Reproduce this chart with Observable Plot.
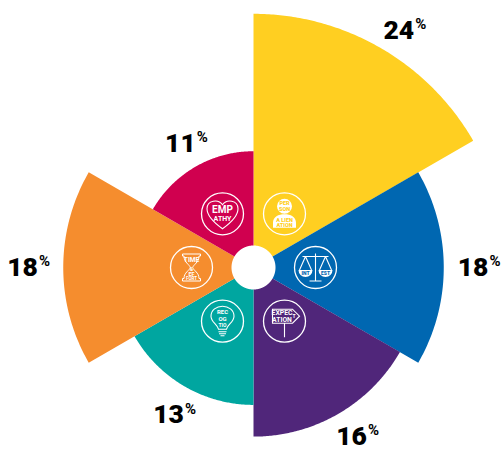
<!DOCTYPE html>
<html>
<head>
<meta charset="utf-8">
<script src="https://cdn.jsdelivr.net/npm/d3@7"></script>
<script src="https://cdn.jsdelivr.net/npm/@observablehq/plot@0.6"></script>
<style>
  html, body { margin: 0; padding: 0; background: #fff; }
  svg { display: block; }
</style>
</head>
<body>
<div id="chart"></div>
<script>
// Share of each factor, clockwise from twelve o'clock
const factors = ["Person alienation", "Fairness", "Expectation", "Recognition", "Time & effort", "Empathy"];
const shares = [24, 18, 16, 13, 18, 11];
const colors = ["#ffcf21", "#0067b1", "#50267a", "#00a6a0", "#f58d2e", "#d0004f"];

// Layout constants: one share point is drawn as 10.57 px of radius
const pxPerPoint = 10.57;
const holeRadius = 22 / pxPerPoint;
const iconRadius = 62 / pxPerPoint;
const cx = 253, cy = 267, W = 501, H = 451;
const sectorDeg = 360 / shares.length;
const rad = d => d * Math.PI / 180;
const polar = (r, deg) => ({x: r * Math.sin(rad(deg)), y: r * Math.cos(rad(deg))});

// Annular sector outlines follow each share
const wedges = shares.flatMap((v, i) => {
  const a0 = i * sectorDeg;
  const degs = d3.range(0, sectorDeg + 0.5, 0.5).map(d => a0 + d);
  const outer = degs.map(d => polar(v, d));
  const inner = degs.slice().reverse().map(d => polar(holeRadius, d));
  return [...outer, ...inner].map(p => ({...p, factor: factors[i], color: colors[i]}));
});

// Value labels sit at a per-sector polar location (px from centre, degrees)
const labelReach = [278, 219.5, 195.4, 170, 231, 144];
const labelAngle = [31.5, 90, 149.9, 210, 270, 329.5];
const labels = shares.map((v, i) => ({
  ...polar(labelReach[i] / pxPerPoint, labelAngle[i]),
  text: String(v)
}));

// Icon centres sit mid-sector
const icons = factors.map((f, i) => ({...polar(iconRadius, (i + 0.5) * sectorDeg), factor: f}));
const at = f => icons.filter(d => d.factor === f);

// Pictograms for the icon badges, drawn around the origin in pixels
const glyph = draw => ({draw(ctx) { draw(ctx); }});
const heart = glyph(c => {
  c.moveTo(0, 15);
  c.bezierCurveTo(-7, 10, -15.5, 3, -15.5, -5);
  c.bezierCurveTo(-15.5, -14, -4, -15, 0, -9);
  c.bezierCurveTo(4, -15, 15.5, -14, 15.5, -5);
  c.bezierCurveTo(15.5, 3, 7, 10, 0, 15);
  c.closePath();
});
const personShape = glyph(c => {
  c.moveTo(7.5, -7.5); c.arc(0, -7.5, 7.5, 0, 2 * Math.PI); c.closePath();
  c.moveTo(-11.5, 14);
  c.lineTo(-11.5, 9);
  c.bezierCurveTo(-11.5, 3, -6, 0.5, 0, 0.5);
  c.bezierCurveTo(6, 0.5, 11.5, 3, 11.5, 9);
  c.lineTo(11.5, 14);
  c.closePath();
});
const balance = glyph(c => {
  c.moveTo(-13, -11); c.lineTo(13, -11);
  c.moveTo(0, -14); c.lineTo(0, 13.5);
  c.moveTo(-6, 13.5); c.lineTo(6, 13.5);
  c.moveTo(-10, -11); c.lineTo(-16, 2.5);
  c.moveTo(-10, -11); c.lineTo(-4, 2.5);
  c.moveTo(10, -11); c.lineTo(4, 2.5);
  c.moveTo(10, -11); c.lineTo(16, 2.5);
});
const pans = glyph(c => {
  c.moveTo(-17, 2.5); c.lineTo(-3, 2.5); c.arc(-10, 2.5, 7, 0, Math.PI); c.closePath();
  c.moveTo(3, 2.5); c.lineTo(17, 2.5); c.arc(10, 2.5, 7, 0, Math.PI); c.closePath();
});
const hourglass = glyph(c => {
  c.moveTo(-9, -13.5); c.lineTo(9, -13.5); c.lineTo(9, -11.5); c.lineTo(7.5, -11.5);
  c.bezierCurveTo(7.5, -5, 2, -3, 1.2, 0);
  c.bezierCurveTo(2, 3, 7.5, 5, 7.5, 11);
  c.lineTo(9, 11); c.lineTo(9, 13.5); c.lineTo(-9, 13.5); c.lineTo(-9, 11); c.lineTo(-7.5, 11);
  c.bezierCurveTo(-7.5, 5, -2, 3, -1.2, 0);
  c.bezierCurveTo(-2, -3, -7.5, -5, -7.5, -11.5);
  c.lineTo(-9, -11.5);
  c.closePath();
});
const bulb = glyph(c => {
  c.moveTo(-4, 8);
  c.bezierCurveTo(-5, 3, -11.5, 1, -11.5, -5);
  c.bezierCurveTo(-11.5, -11, -6, -15, 0, -15);
  c.bezierCurveTo(6, -15, 11.5, -11, 11.5, -5);
  c.bezierCurveTo(11.5, 1, 5, 3, 4, 8);
  c.closePath();
  c.moveTo(-4, 10.5); c.lineTo(4, 10.5);
  c.moveTo(-3.5, 12.5); c.lineTo(3.5, 12.5);
  c.moveTo(-2, 14.5); c.lineTo(2, 14.5);
});
const signpost = glyph(c => {
  c.moveTo(-12, -12); c.lineTo(8, -12); c.lineTo(15, -5); c.lineTo(8, 2); c.lineTo(-12, 2); c.closePath();
  c.moveTo(0, 2); c.lineTo(0, 16);
});

const badge = (factor, symbol, opts = {}) =>
  Plot.dot(at(factor), {x: "x", y: "y", symbol, r: 20, fill: "none", stroke: "#fff", strokeWidth: 1.1, ...opts});

const small = (factor, text, dx, dy, fontSize, opts = {}) =>
  Plot.text(at(factor), {x: "x", y: "y", text: () => text, dx, dy, fontSize,
    fill: "#fff", fontWeight: 700, fontFamily: "Roboto", ...opts});

const chart = Plot.plot({
  width: W,
  height: H,
  margin: 0,
  x: {domain: [-cx / pxPerPoint, (W - cx) / pxPerPoint], range: [0, W], axis: null},
  y: {domain: [(cy - H) / pxPerPoint, cy / pxPerPoint], range: [H, 0], axis: null},
  marks: [
    Plot.line(wedges, {x: "x", y: "y", z: "factor", fill: "color", stroke: "none", curve: "linear-closed"}),

    // Badge rings
    Plot.dot(icons, {x: "x", y: "y", r: 21, fill: "none", stroke: "#fff", strokeWidth: 1.3}),

    // Empathy
    badge("Empathy", heart),
    small("Empathy", "EMP", 0, -4.5, 10),
    small("Empathy", "ATHY", 0, 4.5, 7),

    // Person alienation
    badge("Person alienation", personShape, {fill: "#fff", stroke: "none"}),
    small("Person alienation", "PER", 0, -10.5, 5.5, {fill: "#ffcf21", fontWeight: 900}),
    small("Person alienation", "SON", 0, -5, 5.5, {fill: "#ffcf21", fontWeight: 900}),
    small("Person alienation", "A LIEN", 0, 6, 5.5, {fill: "#ffcf21", fontWeight: 900}),
    small("Person alienation", "ATION", 0, 11, 5.5, {fill: "#ffcf21", fontWeight: 900}),

    // Fairness
    badge("Fairness", balance),
    badge("Fairness", pans, {fill: "#fff", stroke: "none"}),
    small("Fairness", "INT", -10, 6, 5, {fill: "#0067b1", fontWeight: 900}),
    small("Fairness", "EST", 10, 6, 5, {fill: "#0067b1", fontWeight: 900}),

    // Time & effort
    badge("Time & effort", hourglass, {strokeWidth: 1}),
    small("Time & effort", "TIME", 0, -8, 6.5),
    small("Time & effort", "&", 0, 1.5, 5),
    small("Time & effort", "EF", 0, 6.5, 5.5),
    small("Time & effort", "FORT", 0, 11.5, 4.5),

    // Recognition
    badge("Recognition", bulb),
    small("Recognition", "REC", 0, -9, 6),
    small("Recognition", "OG", 0, -2, 6),
    small("Recognition", "TIO", 0, 4.5, 5),

    // Expectation
    badge("Expectation", signpost),
    small("Expectation", "EXPEC", -2.5, -8, 6.8),
    small("Expectation", "ATION", -2.5, -1.5, 6.8),
    small("Expectation", "T", 9.5, -5, 5),

    // Value labels
    Plot.text(labels, {x: "x", y: "y", text: "text", fontSize: 26.5, fontWeight: 900, fontFamily: "Roboto", fill: "#000"}),
    Plot.text(labels, {x: "x", y: "y", text: () => "%", dx: 22, dy: -6, fontSize: 15, fontWeight: 700, fontFamily: "Roboto", fill: "#000"})
  ]
});
document.getElementById("chart").append(chart);
</script>
</body>
</html>
